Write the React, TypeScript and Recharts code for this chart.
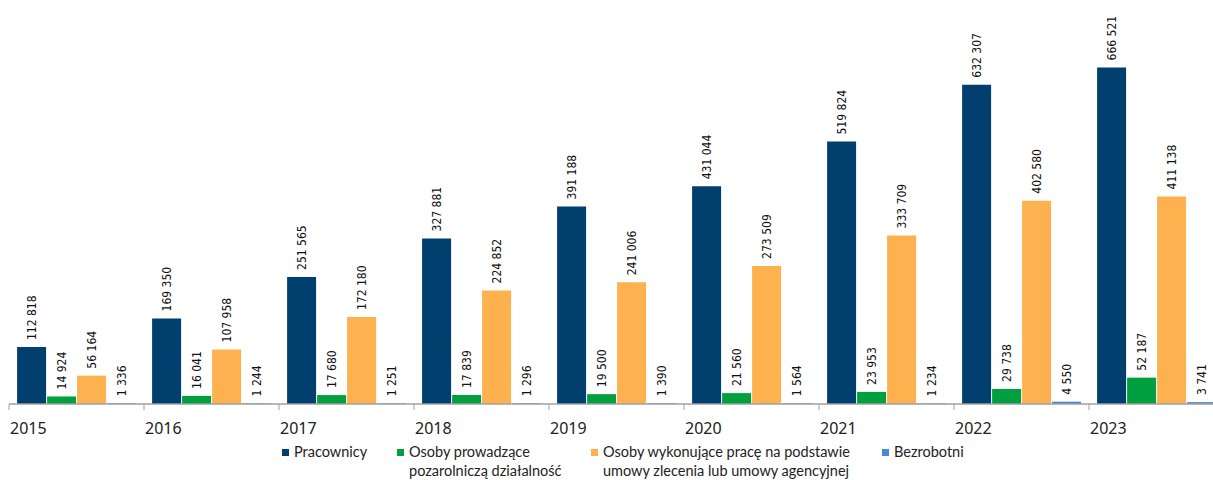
import { Bar, BarChart, LabelList, XAxis, YAxis } from "recharts";

const years = ["2015", "2016", "2017", "2018", "2019", "2020", "2021", "2022", "2023"];
const pracownicy = [112818, 169350, 251565, 327881, 391188, 431044, 519824, 632307, 666521];
const dzialalnosc = [14924, 16041, 17680, 17839, 19500, 21560, 23953, 29738, 52187];
const zlecenia = [56164, 107958, 172180, 224852, 241006, 273509, 333709, 402580, 411138];
const bezrobotni = [1336, 1244, 1251, 1296, 1390, 1564, 1234, 4550, 3741];

const SERIES = [
  { key: "pracownicy", color: "#003F6E", lines: ["Pracownicy"] },
  { key: "dzialalnosc", color: "#00A040", lines: ["Osoby prowadzące", "pozarolniczą działalność"] },
  { key: "zlecenia", color: "#FDB24F", lines: ["Osoby wykonujące pracę na podstawie", "umowy zlecenia lub umowy agencyjnej"] },
  { key: "bezrobotni", color: "#4A86D6", lines: ["Bezrobotni"] },
];
const LEGEND_X = [282, 397, 591, 882];

const data = years.map((year, i) => ({
  year,
  pracownicy: pracownicy[i],
  dzialalnosc: dzialalnosc[i],
  zlecenia: zlecenia[i],
  bezrobotni: bezrobotni[i],
}));

const BAND = 135;
const LABEL_FONT = "'DejaVu Sans Condensed', 'DejaVu Sans', sans-serif";
const TEXT_FONT = "'Noto Sans', 'Open Sans', sans-serif";
const LEGEND_FONT = "Lato, 'Noto Sans', sans-serif";

const fmt = (v: number) => String(v).replace(/\B(?=(\d{3})+(?!\d))/g, " ");

function RotatedLabel(props: any) {
  const { x, y, width, value } = props;
  const cx = Number(x) + Number(width) / 2;
  const ty = Number(y) - 7;
  return (
    <text
      x={cx}
      y={ty}
      transform={`rotate(-90, ${cx}, ${ty})`}
      textAnchor="start"
      dominantBaseline="central"
      fontSize={12}
      fontFamily={LABEL_FONT}
      fill="#111"
    >
      {fmt(value)}
    </text>
  );
}

function YearTick(props: any) {
  const { x, y, payload } = props;
  const left = x - BAND / 2;
  return (
    <g>
      <line x1={left} y1={404} x2={left} y2={410} stroke="#A0A0A0" strokeWidth={1} />
      <text x={left + 1} y={y + 22} fontSize={16} fontFamily={TEXT_FONT} fill="#222">
        {payload.value}
      </text>
    </g>
  );
}

export default function App() {
  return (
    <div style={{ position: "absolute", left: 0, top: 0, width: 1213, height: 480, overflow: "hidden", background: "#fff" }}>
      <BarChart
        width={1224}
        height={480}
        data={data}
        margin={{ top: 0, right: 0, left: 9, bottom: 46 }}
        barCategoryGap="6%"
        barGap={1}
      >
        <XAxis
          dataKey="year"
          height={30}
          tickLine={false}
          axisLine={{ stroke: "#A0A0A0", strokeWidth: 1.5 }}
          tick={<YearTick />}
          interval={0}
        />
        <YAxis hide domain={[0, 800000]} />
        {SERIES.map((s) => (
          <Bar key={s.key} dataKey={s.key} fill={s.color} isAnimationActive={false}>
            <LabelList dataKey={s.key} content={<RotatedLabel />} />
          </Bar>
        ))}
      </BarChart>
      {SERIES.map((s, i) => (
        <div
          key={s.key}
          style={{
            position: "absolute",
            left: LEGEND_X[i],
            top: 442,
            fontFamily: LEGEND_FONT,
            fontSize: 14.5,
            lineHeight: "19px",
            color: "#222",
            display: "flex",
            alignItems: "flex-start",
            whiteSpace: "nowrap",
          }}
        >
          <span style={{ width: 7, height: 7, background: s.color, marginTop: 7, marginRight: 5, flex: "none" }} />
          <span>
            {s.lines.map((l) => (
              <div key={l}>{l}</div>
            ))}
          </span>
        </div>
      ))}
    </div>
  );
}
